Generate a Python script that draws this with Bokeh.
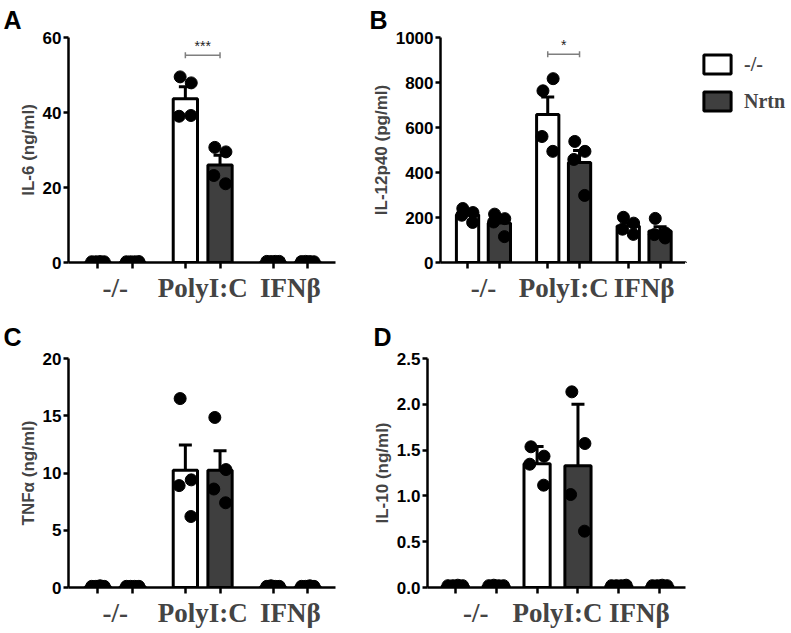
import math
from bokeh.plotting import figure
from bokeh.models import (ColumnDataSource, Whisker, TeeHead, FixedTicker, Title,
                          Legend, LegendItem, NumeralTickFormatter, Range1d)
from bokeh.layouts import column, row
from bokeh.embed import file_html
from bokeh.resources import INLINE
from bokeh.core.properties import value

# ---------------- data ----------------
groups = ["-/-", "PolyI:C", "IFNβ"]
series_labels = ["-/-", "Nrtn"]

# A: IL-6 (ng/ml), mean +/- SEM
il6_wt_mean = [0.2, 43.7, 0.3]
il6_wt_err = [0.0, 3.2, 0.0]
il6_nr_mean = [0.2, 26.0, 0.25]
il6_nr_err = [0.0, 2.6, 0.0]
il6_wt_pts = [[0.2, 0.2, 0.25, 0.2], [49.5, 47.9, 39.0, 39.2], [0.3, 0.25, 0.3, 0.3]]
il6_nr_pts = [[0.2, 0.2, 0.2, 0.25], [30.7, 29.5, 23.2, 21.0], [0.25, 0.3, 0.25, 0.2]]
il6_yticks = [0, 20, 40, 60]

# B: IL-12p40 (pg/ml)
il12_wt_mean = [212, 658, 162]
il12_wt_err = [14, 78, 14]
il12_nr_mean = [176, 445, 140]
il12_nr_err = [22, 53, 19]
il12_wt_pts = [[240, 222, 210, 178], [763, 817, 560, 494], [201, 175, 148, 125]]
il12_nr_pts = [[215, 195, 180, 115], [538, 494, 458, 298], [196, 131, 124, 109]]
il12_yticks = [0, 200, 400, 600, 800, 1000]

# C: TNFa (ng/ml)
tnf_wt_mean = [0.1, 10.25, 0.1]
tnf_wt_err = [0.0, 2.2, 0.0]
tnf_nr_mean = [0.1, 10.25, 0.1]
tnf_nr_err = [0.0, 1.7, 0.0]
tnf_wt_pts = [[0.1, 0.1, 0.15, 0.1], [16.5, 9.4, 8.9, 6.2], [0.1, 0.15, 0.1, 0.1]]
tnf_nr_pts = [[0.1, 0.1, 0.1, 0.1], [14.85, 10.3, 8.6, 7.4], [0.1, 0.1, 0.15, 0.1]]
tnf_yticks = [0, 5, 10, 15, 20]

# D: IL-10 (ng/ml), mean +/- SD
il10_wt_mean = [0.02, 1.35, 0.02]
il10_wt_err = [0.0, 0.19, 0.0]
il10_nr_mean = [0.02, 1.33, 0.02]
il10_nr_err = [0.0, 0.67, 0.0]
il10_wt_pts = [[0.02, 0.02, 0.025, 0.02], [1.536, 1.434, 1.346, 1.117], [0.02, 0.02, 0.02, 0.025]]
il10_nr_pts = [[0.02, 0.025, 0.02, 0.02], [2.136, 1.572, 1.015, 0.615], [0.02, 0.02, 0.025, 0.02]]
il10_yticks = [0, 0.5, 1.0, 1.5, 2.0, 2.5]

# significance brackets
sig_A = {"group": 1, "y": 55.3, "label": "***"}
sig_B = {"group": 1, "y": 926, "label": "*"}

# ---------------- styling ----------------
WHITE = "#ffffff"
DARK = "#3f3f3f"
SANS = "Liberation Sans"
SERIF = "Liberation Serif"
JIT_HI = [-0.15, 0.17, -0.18, 0.16]
JIT_LO = [-0.18, -0.06, 0.06, 0.18]


def make_panel(letter, letter_off, letter_standoff, ylabel, ymax, yticks, fmt,
               wt_mean, wt_err, nr_mean, nr_err, wt_pts, nr_pts, centers, half, bw, xr,
               width, height, bl, br, bt, bb, sig=None):
    p = figure(width=width, height=height, x_range=Range1d(*xr), y_range=Range1d(0, ymax),
               output_backend="svg", toolbar_location=None,
               min_border_left=bl, min_border_right=br, min_border_top=bt, min_border_bottom=bb)
    p.outline_line_color = None
    p.xgrid.visible = False
    p.ygrid.visible = False
    p.background_fill_color = None
    p.border_fill_color = None

    p.title = Title(text=letter, align="left", offset=letter_off, standoff=letter_standoff,
                    text_font=SANS, text_font_style="bold", text_font_size="25px",
                    text_color="black")

    xw = [c - half for c in centers]
    xn = [c + half for c in centers]
    p.vbar(x=xw, top=wt_mean, width=bw, fill_color=WHITE, line_color="black", line_width=3)
    p.vbar(x=xn, top=nr_mean, width=bw, fill_color=DARK, line_color="black", line_width=3)

    for xs, m, e in ((xw, wt_mean, wt_err), (xn, nr_mean, nr_err)):
        idx = [i for i in range(len(xs)) if e[i] > 0]
        src = ColumnDataSource(dict(base=[xs[i] for i in idx],
                                    upper=[m[i] + e[i] for i in idx],
                                    lower=[m[i] - e[i] for i in idx]))
        w = Whisker(source=src, base="base", upper="upper", lower="lower", dimension="height",
                    line_width=3, line_color="black",
                    upper_head=TeeHead(size=13, line_width=3, line_color="black"),
                    lower_head=TeeHead(size=13, line_width=3, line_color="black"))
        p.add_layout(w)

    for xs, pts in ((xw, wt_pts), (xn, nr_pts)):
        px, py = [], []
        for i, vals in enumerate(pts):
            jit = JIT_HI if max(vals) > ymax * 0.05 else JIT_LO
            for j, v in enumerate(vals):
                px.append(xs[i] + jit[j % 4])
                py.append(v)
        p.scatter(px, py, size=12, color="black")

    if sig is not None:
        g = sig["group"]
        x0, x1 = xw[g], xn[g]
        p.segment(x0=[x0], y0=[sig["y"]], x1=[x1], y1=[sig["y"]], line_color="#7f7f7f", line_width=1.5)
        p.scatter([x0, x1], [sig["y"], sig["y"]], marker="dash", angle=math.pi / 2, size=6,
                  line_color="#7f7f7f", line_width=1.5)
        p.text([(x0 + x1) / 2], [sig["y"]], text=[sig["label"]], text_align="center",
               text_baseline="bottom", text_font=value(SANS), text_font_size="14px",
               text_color="#222222", y_offset=-1)

    # y axis
    ya = p.yaxis[0]
    ya.ticker = FixedTicker(ticks=yticks)
    ya.formatter = NumeralTickFormatter(format=fmt)
    ya.axis_line_width = 2.5
    ya.major_tick_line_width = 2.5
    ya.major_tick_out = 5
    ya.major_tick_in = 0
    ya.minor_tick_out = 0
    ya.minor_tick_in = 0
    ya.major_label_text_font = SANS
    ya.major_label_text_font_style = "bold"
    ya.major_label_text_font_size = "17px"
    ya.major_label_text_color = "black"
    ya.major_label_standoff = 2
    ya.axis_label = ylabel
    ya.axis_label_text_font = SANS
    ya.axis_label_text_font_style = "bold"
    ya.axis_label_text_font_size = "17px"
    ya.axis_label_standoff = 2

    # x axis: group labels at centres, small ticks at each bar
    xa = p.xaxis[0]
    xa.ticker = FixedTicker(ticks=centers, minor_ticks=xw + xn)
    xa.major_label_overrides = {c: g for c, g in zip(centers, groups)}
    xa.axis_line_width = 2.5
    xa.major_tick_out = 0
    xa.major_tick_in = 0
    xa.minor_tick_out = 6
    xa.minor_tick_in = 0
    xa.minor_tick_line_width = 2.5
    xa.major_label_text_font = SERIF
    xa.major_label_text_font_style = "bold"
    xa.major_label_text_font_size = "27px"
    xa.major_label_standoff = 4
    return p


def make_legend(width, height, gap):
    pl = figure(width=width, height=height, x_range=Range1d(0, 1), y_range=Range1d(0, 1),
                output_backend="svg", toolbar_location=None, min_border=0,
                x_axis_location=None, y_axis_location=None)
    pl.outline_line_color = None
    pl.xgrid.visible = False
    pl.ygrid.visible = False
    pl.background_fill_color = None
    pl.border_fill_color = None
    # legend-key renderers (kept outside the visible range)
    rw = pl.vbar(x=[-5], top=[-5], width=0.5, fill_color=WHITE, line_color="black", line_width=3)
    rn = pl.vbar(x=[-5], top=[-5], width=0.5, fill_color=DARK, line_color="black", line_width=3)
    leg = Legend(items=[LegendItem(label=series_labels[0], renderers=[rw]),
                        LegendItem(label=series_labels[1], renderers=[rn])],
                 location="top_left", orientation="vertical",
                 glyph_width=34, glyph_height=24, spacing=13, padding=0, margin=gap,
                 label_standoff=10, label_text_font=SERIF, label_text_font_style="bold",
                 label_text_font_size="20px", border_line_alpha=0, background_fill_alpha=0)
    pl.add_layout(leg)
    return pl


grp_centers = [1.35, 3.87, 6.4]
pA = make_panel("A", -65, 7, "IL-6 (ng/ml)", 60, il6_yticks, "0",
                il6_wt_mean, il6_wt_err, il6_nr_mean, il6_nr_err, il6_wt_pts, il6_nr_pts,
                grp_centers, 0.5, 0.7, (0, 7.7), 368, 305, 68, 33, 37, 40, sig=sig_A)
pB = make_panel("B", -71, 7, "IL-12p40 (pg/ml)", 1000, il12_yticks, "0",
                il12_wt_mean, il12_wt_err, il12_nr_mean, il12_nr_err, il12_wt_pts, il12_nr_pts,
                grp_centers, 0.5, 0.7, (0, 7.7), 317, 305, 62, 0, 37, 40, sig=sig_B)
pLeg = make_legend(105, 305, 15)
pC = make_panel("C", -65, 16, "TNFα (ng/ml)", 20, tnf_yticks, "0",
                tnf_wt_mean, tnf_wt_err, tnf_nr_mean, tnf_nr_err, tnf_wt_pts, tnf_nr_pts,
                grp_centers, 0.5, 0.7, (0, 7.7), 368, 326, 68, 33, 53, 44)
pD = make_panel("D", -54, 16, "IL-10 (ng/ml)", 2.5, il10_yticks, "0.0",
                il10_wt_mean, il10_wt_err, il10_nr_mean, il10_nr_err, il10_wt_pts, il10_nr_pts,
                [0.5, 2.5, 4.5], 0.5, 0.64, (-0.68, 5.63), 422, 326, 59, 105, 53, 44)

layout = column(row(pA, pB, pLeg), row(pC, pD))
open("out.html", "w").write(file_html(layout, INLINE))
